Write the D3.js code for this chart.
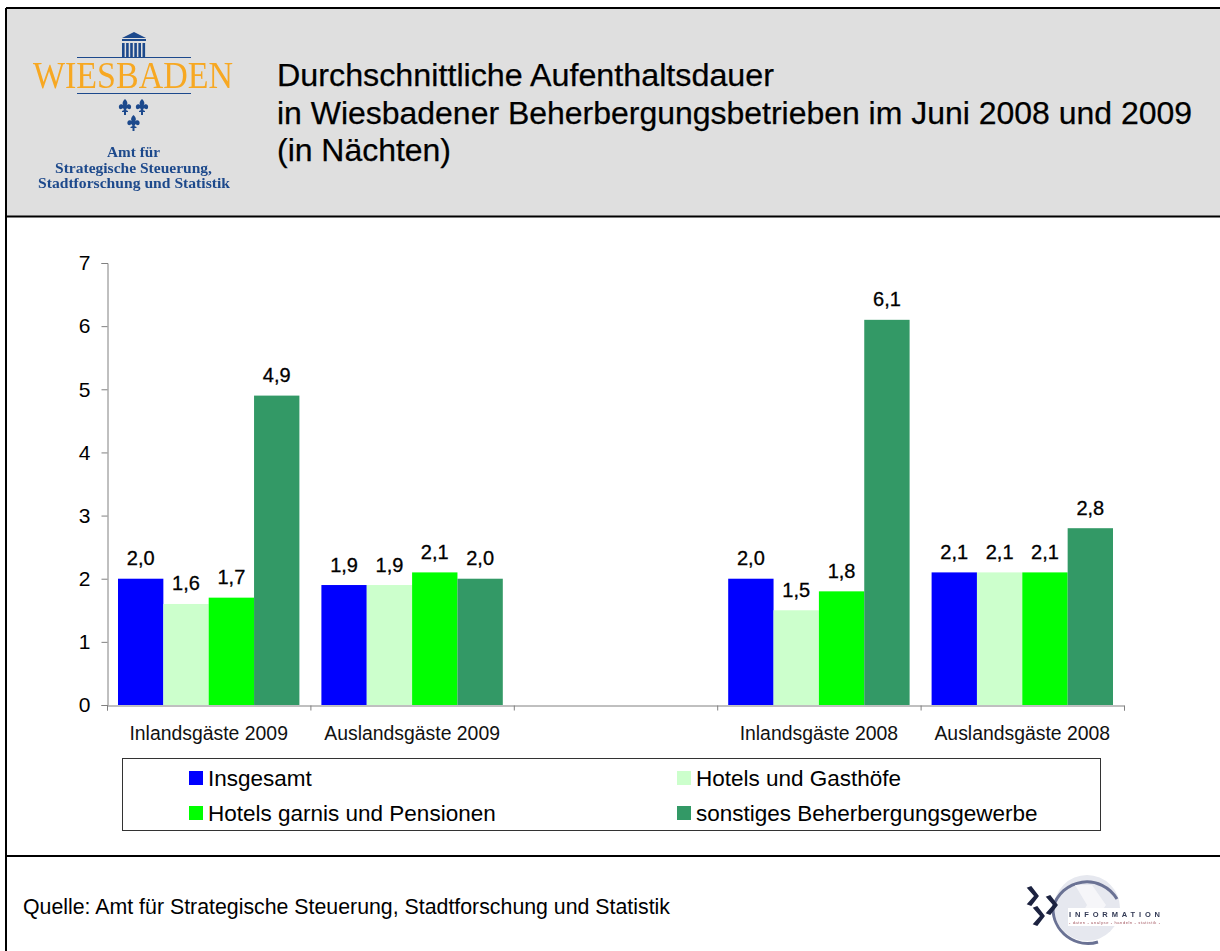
<!DOCTYPE html>
<html><head><meta charset="utf-8">
<script src="https://cdn.jsdelivr.net/npm/d3@7"></script>
<style>html,body{margin:0;padding:0;background:#fff}svg{display:block}text{font-family:"Liberation Sans",Arial,sans-serif}</style>
</head><body><svg id="c" width="1220" height="951"></svg>
<script>
const categories = ["Inlandsgäste 2009","Auslandsgäste 2009","","Inlandsgäste 2008","Auslandsgäste 2008"];
const seriesNames = ["Insgesamt","Hotels und Gasthöfe","Hotels garnis und Pensionen","sonstiges Beherbergungsgewerbe"];
const seriesColors = ["#0000ff","#ccffcc","#00ff00","#339966"];
const insgesamt = [2.0,1.9,null,2.0,2.1];
const hotels = [1.6,1.9,null,1.5,2.1];
const garnis = [1.7,2.1,null,1.8,2.1];
const sonstiges = [4.9,2.0,null,6.1,2.8];
const seriesValues = [insgesamt,hotels,garnis,sonstiges];
const yTicks = [0,1,2,3,4,5,6,7];
const titleLines = ["Durchschnittliche Aufenthaltsdauer","in Wiesbadener Beherbergungsbetrieben im Juni 2008 und 2009","(in Nächten)"];
const sourceText = "Quelle: Amt für Strategische Steuerung, Stadtforschung und Statistik";
const logoLines = ["Amt für","Strategische Steuerung,","Stadtforschung und Statistik"];

const svg = d3.select("#c");
const defs = svg.append("defs");
defs.append("filter").attr("id","soft").append("feGaussianBlur").attr("stdDeviation",0.45);
defs.append("filter").attr("id","softer").append("feGaussianBlur").attr("stdDeviation",0.7);
// Frame
svg.append("rect").attr("x",7).attr("y",9).attr("width",1213).attr("height",207).attr("fill","#dfdfdf");
const frame = svg.append("g").attr("stroke","#000").attr("stroke-width",2);
frame.append("line").attr("x1",6).attr("x2",1220).attr("y1",8).attr("y2",8);
frame.append("line").attr("x1",6).attr("x2",1220).attr("y1",216.5).attr("y2",216.5);
frame.append("line").attr("x1",6).attr("x2",1220).attr("y1",856).attr("y2",856);
frame.append("line").attr("x1",6).attr("x2",6).attr("y1",8).attr("y2",951);

// Title
svg.append("g").selectAll("text").data(titleLines).join("text")
  .attr("x",277).attr("y",(d,i)=>86+i*37.5).attr("font-size",31).attr("fill","#000")
  .attr("stroke","#000").attr("stroke-width",0.25)
  .attr("textLength",(d,i)=>[497,915,174][i]).attr("lengthAdjust","spacingAndGlyphs").text(d=>d);

// Wiesbaden logo
const logo = svg.append("g").attr("filter","url(#soft)");
const navy="#1f4a8c", orange="#f7a823";
logo.append("path").attr("d","M122 38 L134 32 L146 38 Z").attr("fill",navy);
logo.append("rect").attr("x",122).attr("y",39).attr("width",24).attr("height",2).attr("fill",navy);
logo.append("g").selectAll("rect").data(d3.range(6)).join("rect")
  .attr("x",d=>122+d*4.1).attr("y",43).attr("width",2.6).attr("height",14).attr("fill",navy);
logo.append("line").attr("x1",77).attr("x2",191).attr("y1",57.5).attr("y2",57.5).attr("stroke",navy).attr("stroke-width",1.2);
logo.append("line").attr("x1",77).attr("x2",191).attr("y1",93.5).attr("y2",93.5).attr("stroke",navy).attr("stroke-width",1.2);
logo.append("text").attr("x",33).attr("y",87.5).attr("font-size",37).attr("fill",orange)
  .style("font-family","'Liberation Serif',serif").attr("textLength",200).attr("lengthAdjust","spacingAndGlyphs").text("WIESBADEN");
logo.append("g").selectAll("path").data([[125,107],[142,107],[133.5,123]]).join("path")
  .attr("transform",d=>`translate(${d[0]},${d[1]})`)
  .attr("d","M0 -8 C3 -5 3 -3 1 -1 C3 -4 7 -3 6 1 C5 3 3 2 2 1 L1 3 L3 4 L3 5 L1 5 L1 8 L-1 8 L-1 5 L-3 5 L-3 4 L-1 3 L-2 1 C-3 2 -5 3 -6 1 C-7 -3 -3 -4 -1 -1 C-3 -3 -3 -5 0 -8 Z")
  .attr("fill",navy);
logo.append("g").selectAll("text").data(logoLines).join("text")
  .attr("x",(d,i)=>[107,55,38][i]).attr("y",(d,i)=>[156.5,173,188][i]).attr("font-size",14).attr("font-weight","bold")
  .style("font-family","'Liberation Serif',serif").attr("fill",navy)
  .attr("textLength",(d,i)=>[53,157,192][i]).attr("lengthAdjust","spacingAndGlyphs").text(d=>d);

// Chart scales
const x = d3.scaleBand().domain(d3.range(categories.length)).range([107,1124]);
const bandPad = 11;
const xInner = d3.scaleBand().domain(d3.range(seriesNames.length)).range([bandPad,x.bandwidth()-bandPad]);
const y = d3.scaleLinear().domain([0,7]).range([705,263]);

// Bars
const fmt = v => d3.format(".1f")(v).replace(".",",");
seriesValues.forEach((vals,s)=>{
  const g = svg.append("g");
  const rows = vals.map((v,i)=>({v,i})).filter(d=>d.v!==null);
  g.selectAll("rect").data(rows).join("rect")
    .attr("x",d=>x(d.i)+xInner(s)).attr("width",xInner.bandwidth())
    .attr("y",d=>y(d.v)).attr("height",d=>y(0)-y(d.v)).attr("fill",seriesColors[s]);
  g.selectAll("text").data(rows).join("text")
    .attr("x",d=>x(d.i)+xInner(s)+xInner.bandwidth()/2).attr("y",d=>y(d.v)-13.5)
    .attr("text-anchor","middle").attr("font-size",20)
    .attr("stroke","#000").attr("stroke-width",0.3).attr("fill","#000").text(d=>fmt(d.v));
});

// Axes
const axisCol="#808080";
const yAxis = svg.append("g").attr("transform","translate(107.5,0)")
  .call(d3.axisLeft(y).tickValues(yTicks).tickSize(6).tickPadding(11).tickFormat(d=>d));
yAxis.selectAll("text").attr("font-size",21).attr("fill","#000");
yAxis.selectAll("line").attr("stroke",axisCol);
yAxis.select(".domain").attr("stroke",axisCol);
const tickX = d3.scaleLinear().domain([0,categories.length]).range(x.range());
const xAxis = svg.append("g").attr("transform","translate(0,705.5)")
  .call(d3.axisBottom(tickX).tickValues(d3.range(categories.length+1)).tickSize(5).tickFormat(""));
xAxis.selectAll("line").attr("stroke",axisCol);
xAxis.select(".domain").attr("stroke",axisCol);
svg.append("g").selectAll("text").data(categories).join("text")
  .attr("x",(d,i)=>x(i)+x.bandwidth()/2).attr("y",740).attr("text-anchor","middle")
  .attr("font-size",19.4).attr("fill","#111").text(d=>d);

// Legend
svg.append("rect").attr("x",122.5).attr("y",758.5).attr("width",978).attr("height",72)
  .attr("fill","#fff").attr("stroke","#333").attr("stroke-width",1);
const legendX = [189,677], legendY=[771,806];
const leg = svg.append("g").selectAll("g").data(seriesNames).join("g")
  .attr("transform",(d,i)=>`translate(${legendX[i%2]},${legendY[Math.floor(i/2)]})`);
leg.append("rect").attr("width",14).attr("height",14).attr("fill",(d,i)=>seriesColors[i]);
leg.append("text").attr("x",19).attr("y",14.5).attr("font-size",22.5).attr("fill","#000").text(d=>d);

// Footer
svg.append("text").attr("x",23).attr("y",914).attr("font-size",21.3).attr("fill","#000")
  .attr("textLength",647).attr("lengthAdjust","spacingAndGlyphs").text(sourceText);

// Information logo
const info = svg.append("g").attr("filter","url(#softer)");
info.append("circle").attr("cx",1087).attr("cy",908).attr("r",33).attr("fill","#e6e8ef");
info.append("path").attr("d","M1117 899 A35 35 0 0 0 1053 908 A35 35 0 0 0 1098 942")
  .attr("fill","none").attr("stroke","#6b7294").attr("stroke-width",3);
info.append("path").attr("d","M1075 885 L1092 885 L1106 905 L1092 925 L1075 925 L1087 905 Z").attr("fill","#f6f6f9");
info.append("rect").attr("x",1068).attr("y",908).attr("width",93).attr("height",18).attr("fill","#fff");
info.append("g").selectAll("path").data([[1028,888],[1047,897],[1034,908]]).join("path")
  .attr("d",d=>`M${d[0]} ${d[1]} l7 8 l-7 8 l3 1 l7 -9 l-7 -9 z`).attr("fill","#1c2440").attr("stroke","#1c2440").attr("stroke-width",1.5);
info.append("text").attr("x",1069).attr("y",917).attr("font-size",7.5).attr("font-weight","bold").attr("fill","#333a55")
  .attr("textLength",91).text("INFORMATION");
info.append("text").attr("x",1069).attr("y",924).attr("font-size",4).attr("fill","#a0505a")
  .attr("textLength",91).text("- daten - analyse - handeln - statistik -");
</script></body></html>
